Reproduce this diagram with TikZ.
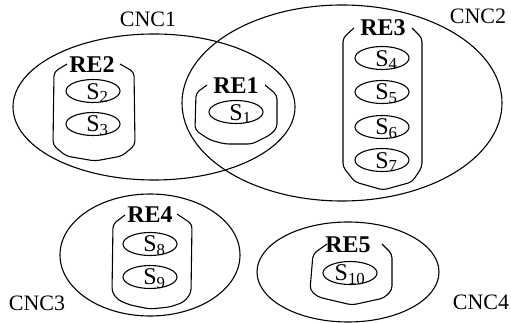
\documentclass[tikz,border=0pt]{standalone}
\usepackage{fontspec}
\setmainfont{Liberation Serif}
\usetikzlibrary{shapes.geometric}

\newcommand{\bigfont}{\fontsize{22}{24}\selectfont}
\newcommand{\svfont}{\fontsize{24}{26}\selectfont}
\newcommand{\svname}[1]{\phantom{\textsubscript{#1}}S\textsubscript{#1}}

\tikzset{
  cnc/.style={draw, ellipse, line width=1.1pt, inner sep=0pt},
  cnclabel/.style={font=\bigfont, inner sep=0pt},
  svtext/.style={font=\svfont, inner sep=0pt, yshift=-2pt},
  svc/.style={draw, ellipse, line width=1.1pt, inner sep=0pt,
    minimum width=54pt, minimum height=23pt, label={[svtext]center:#1}},
  relabel/.style={font=\svfont\bfseries, inner sep=0pt},
  rebox/.style={line width=1.1pt, rounded corners=4pt}
}

\begin{document}
\begin{tikzpicture}[x=1pt, y=-1pt]
  \useasboundingbox (0,0) rectangle (511,323);

  % Clusters
  \node[cnc, minimum width=282pt, minimum height=146pt] (cnc1) at (154,107) {};
  \node[cnc, minimum width=320pt, minimum height=196pt] (cnc2) at (342,103) {};
  \node[cnc, minimum width=180pt, minimum height=122pt] (cnc3) at (150,255) {};
  \node[cnc, minimum width=182pt, minimum height=100pt] (cnc4) at (348,272) {};

  \node[cnclabel] (cnc1name) at (148,19) {CNC1};
  \node[cnclabel] (cnc2name) at (478,16) {CNC2};
  \node[cnclabel] (cnc3name) at (37,303) {CNC3};
  \node[cnclabel] (cnc4name) at (481,302) {CNC4};

  % RE1
  \node[relabel] (re1) at (236,86) {RE1};
  \draw[rebox] (207,85) -- (196,93) -- (195,130) -- (210,140) -- (225,144)
    -- (252,144) -- (270,135) -- (277,128) -- (277,95) -- (265,85);
  \node[svc={\svname{1}}] (s1) at (236,112) {};

  % RE2
  \node[relabel] (re2) at (92,65) {RE2};
  \draw[rebox] (67,64) -- (54,72) -- (53,145) -- (66,156) -- (95,161)
    -- (122,156) -- (135,145) -- (134,72) -- (120,64);
  \node[svc={\svname{2}}] (s2) at (93,91) {};
  \node[svc={\svname{3}}] (s3) at (93,124) {};

  % RE3
  \node[relabel] (re3) at (383,28) {RE3};
  \draw[rebox] (354,28) -- (343,38) -- (343,167) -- (355,182) -- (383,190)
    -- (412,182) -- (422,167) -- (422,38) -- (412,28);
  \foreach \k/\y in {4/58, 5/92, 6/127, 7/160}
    \node[svc={\svname{\k}}] (s\k) at (382,\y) {};

  % RE4
  \node[relabel] (re4) at (150,215) {RE4};
  \draw[rebox] (125,215) -- (113,224) -- (112,292) -- (118,300) -- (130,305)
    -- (150,309) -- (170,307) -- (184,302) -- (191,293) -- (192,224) -- (177,214);
  \node[svc={\svname{8}}] (s8) at (150,244) {};
  \node[svc={\svname{9}}] (s9) at (150,277) {};

  % RE5
  \node[relabel] (re5) at (348,245) {RE5};
  \draw[rebox] (327,244) -- (313,254) -- (310,290) -- (318,297) -- (352,305)
    -- (384,298) -- (392,290) -- (392,254) -- (382,244);
  \node[svc={S\textsubscript{10}}] (s10) at (350,273) {};
\end{tikzpicture}
\end{document}
